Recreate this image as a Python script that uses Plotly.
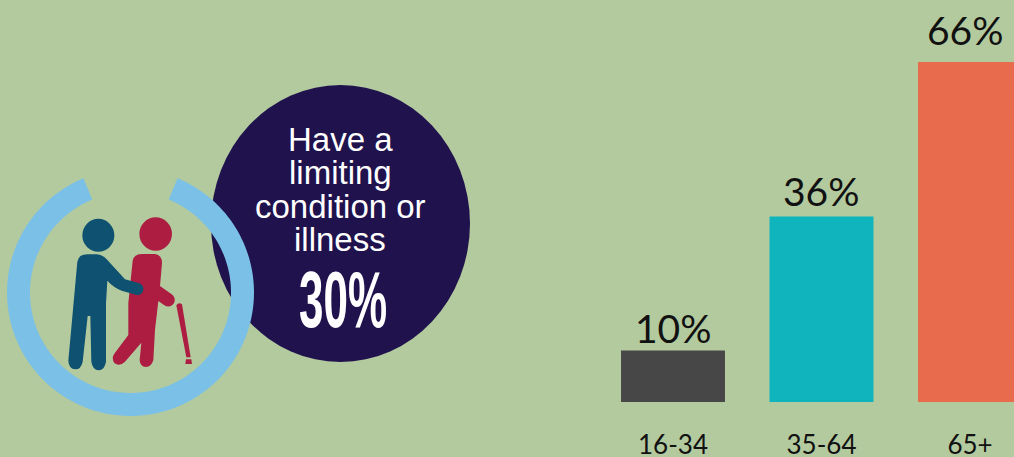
import numpy as np
import plotly.graph_objects as go

W, H = 1014, 457
BG = "#B3CA9F"

# Share with a limiting condition or illness, by age group
age_groups = ["16-34", "35-64", "65+"]
shares = [10, 36, 66]
bar_colors = ["#474747", "#0FB4BD", "#E86B4E"]

headline_lines = ["Have a", "limiting", "condition or", "illness"]
headline_value = "30%"


def fx(x):
    return x / W


def fy(y):
    return 1 - y / H


def path_from(cmds):
    """Build an SVG path in paper units from pixel-based commands."""
    out = []
    for cmd in cmds:
        letter, *pts = cmd
        coords = " ".join(f"{fx(p[0]):.5f},{fy(p[1]):.5f}" for p in pts)
        out.append(f"{letter} {coords}")
    return " ".join(out) + " Z"


def icon(x, y):
    # Pictogram outlines are laid out on a 3x grid anchored at (0, 160)
    return (x / 3, 160 + y / 3)


def icon_path(cmds):
    return path_from([(c[0], *[icon(*p) for p in c[1:]]) for c in cmds])


def circle(cx, cy, rx, ry, color):
    return dict(type="circle", xref="paper", yref="paper",
                x0=fx(cx - rx), x1=fx(cx + rx), y0=fy(cy + ry), y1=fy(cy - ry),
                fillcolor=color, line_width=0, layer="above")


def filled(path, color):
    return dict(type="path", xref="paper", yref="paper", path=path,
                fillcolor=color, line_width=0, layer="above")


def ring_path(cx, cy, r_out, r_in, gap_deg):
    angles = np.radians(np.linspace(gap_deg, 360 - gap_deg, 160))
    outer = [(cx + r_out * np.sin(a), cy - r_out * np.cos(a)) for a in angles]
    inner = [(cx + r_in * np.sin(a), cy - r_in * np.cos(a)) for a in angles[::-1]]
    pts = outer + inner
    return path_from([("M", pts[0])] + [("L", p) for p in pts[1:]])


NAVY = "#20124D"
RING = "#7BC0E6"
BLUE = "#0E5170"
RED = "#AC1D41"

blue_body = icon_path([
    ("M", (232, 305)), ("Q", (236, 283), (262, 283)), ("L", (290, 283)),
    ("Q", (308, 285), (320, 298)), ("L", (375, 358)), ("L", (418, 370)),
    ("Q", (432, 376), (430, 390)), ("Q", (426, 406), (410, 405)),
    ("L", (365, 392)), ("Q", (340, 382), (322, 362)), ("L", (318, 430)),
    ("L", (318, 605)), ("Q", (314, 630), (296, 631)), ("Q", (278, 630), (274, 605)),
    ("L", (271, 468)), ("L", (263, 468)), ("L", (248, 605)),
    ("Q", (243, 628), (226, 628)), ("Q", (206, 626), (205, 602)),
])
red_body = icon_path([
    ("M", (398, 302)), ("Q", (402, 282), (425, 282)), ("L", (465, 282)),
    ("Q", (487, 286), (486, 310)), ("L", (480, 378)), ("L", (518, 405)),
    ("Q", (530, 418), (520, 432)), ("Q", (508, 446), (492, 435)),
    ("L", (475, 423)), ("L", (465, 510)), ("L", (460, 600)),
    ("Q", (454, 621), (438, 621)), ("Q", (420, 620), (419, 600)),
    ("L", (424, 548)), ("L", (375, 605)), ("Q", (358, 621), (344, 610)),
    ("Q", (332, 596), (344, 580)), ("L", (385, 525)), ("L", (385, 430)),
])
cane = icon_path([
    ("M", (529, 436)), ("Q", (536, 425), (546, 433)), ("L", (572, 592)),
    ("L", (559, 592)),
])
cane_tip = icon_path([
    ("M", (558, 598)), ("L", (574, 598)), ("L", (576, 612)), ("L", (556, 612)),
])

shapes = [
    circle(340.5, 223.5, 129.5, 138.5, NAVY),
    filled(ring_path(130.5, 292.5, 123.5, 100.5, 22.4), RING),
    circle(*icon(295, 226), 16, 16.5, BLUE),
    circle(*icon(467, 222), 16.3, 16.7, RED),
    filled(red_body, RED),
    filled(blue_body, BLUE),
    filled(cane, RED),
    filled(cane_tip, RED),
]

annotations = [
    dict(xref="paper", yref="paper", x=fx(340), y=fy(yc), text=line,
         showarrow=False, xanchor="center", yanchor="middle",
         font=dict(family="Liberation Sans", size=33, color="#FFFFFF"))
    for line, yc in zip(headline_lines, [139, 172, 206, 239])
]
annotations.append(
    dict(xref="paper", yref="paper", x=fx(342.5), y=fy(299), text=f"<b>{headline_value}</b>",
         showarrow=False, xanchor="center", yanchor="middle",
         font=dict(family="Liberation Sans", size=80, color="#FFFFFF"))
)
# Value labels sit above their bars, with a little more air over the taller ones
for group, share, nudge, lift in zip(age_groups, shares, [0, 0, -5], [-2, 1, 7]):
    annotations.append(
        dict(xref="x", yref="y", x=group, y=share, text=f"{share}%",
             showarrow=False, xanchor="center", yanchor="bottom", xshift=nudge, yshift=lift,
             font=dict(family="Lato", size=39, color="#111111"))
    )

fig = go.Figure(
    go.Bar(
        x=age_groups,
        y=shares,
        width=0.7,
        marker=dict(color=bar_colors, line_width=0),
        cliponaxis=False,
        hoverinfo="skip",
    )
)

fig.update_layout(
    width=W,
    height=H,
    margin=dict(l=0, r=0, t=0, b=0, autoexpand=False),
    paper_bgcolor=BG,
    plot_bgcolor=BG,
    showlegend=False,
    shapes=shapes,
    annotations=annotations,
    xaxis=dict(
        type="category",
        automargin=False,
        range=[-673 / 148.5, (W - 673) / 148.5],
        showgrid=False,
        zeroline=False,
        showline=False,
        ticks="outside",
        ticklen=20,
        tickwidth=0,
        tickcolor=BG,
        tickfont=dict(family="Lato", size=26, color="#111111"),
    ),
    yaxis=dict(
        domain=[55 / H, 1],
        range=[0, 402 / 5.15],
        automargin=False,
        visible=False,
    ),
)

# The big condensed percentage is squeezed horizontally around its own centre
squeeze = """
document.querySelectorAll('.annotation-text').forEach(function (t) {
  if (t.textContent.trim() !== '30%') return;
  var b = t.getBBox();
  var cx = b.x + b.width / 2;
  t.setAttribute('transform', 'translate(' + cx + ',0) scale(0.55,1) translate(' + (-cx) + ',0)');
});
"""

fig.write_html("out.html", post_script=squeeze)
